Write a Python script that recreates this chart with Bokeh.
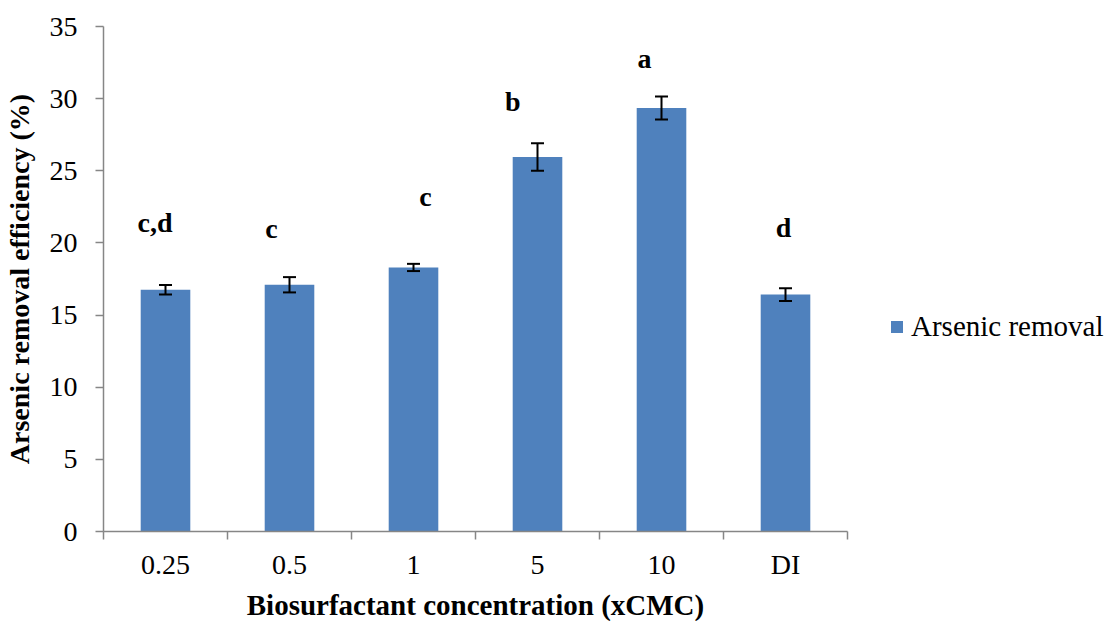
from bokeh.plotting import figure
from bokeh.models import Range1d, FixedTicker, ColumnDataSource, Whisker, TeeHead, Legend
from bokeh.embed import file_html
from bokeh.resources import INLINE
from bokeh.core.properties import value

categories = ["0.25", "0.5", "1", "5", "10", "DI"]
removal = [16.75, 17.1, 18.3, 25.95, 29.35, 16.42]
errors = [0.33, 0.53, 0.25, 0.95, 0.8, 0.44]
letters = ["c,d", "c", "c", "b", "a", "d"]
letter_y = [21.4, 21.0, 23.2, 29.8, 32.75, 21.05]
letter_dx = [-0.085, -0.145, 0.097, -0.2, -0.137, -0.016]
y_ticks = [0, 5, 10, 15, 20, 25, 30, 35]

xs = [i + 0.5 for i in range(len(categories))]
src = ColumnDataSource(dict(
    x=xs, top=removal,
    upper=[v + e for v, e in zip(removal, errors)],
    lower=[v - e for v, e in zip(removal, errors)],
))
lab_src = ColumnDataSource(dict(
    x=[x + d for x, d in zip(xs, letter_dx)], y=letter_y, t=letters))

FONT = "Liberation Serif"
GRAY = "#868686"

p = figure(frame_width=744, frame_height=505, output_backend="svg", toolbar_location=None,
           x_range=Range1d(0, len(categories)), y_range=Range1d(0, 35),
           min_border_left=102, min_border_right=262, min_border_top=26,
           min_border_bottom=80)
p.outline_line_color = None
p.xgrid.visible = False
p.ygrid.visible = False

bars = p.vbar(x="x", top="top", width=0.4, source=src, fill_color="#4F81BD",
              line_color=None)

w = Whisker(base="x", upper="upper", lower="lower", source=src,
            line_color="black", line_width=2, level="overlay",
            upper_head=TeeHead(size=13, line_color="black", line_width=2),
            lower_head=TeeHead(size=13, line_color="black", line_width=2))
p.add_layout(w)

p.text(x="x", y="y", text="t", source=lab_src, text_font=value(FONT),
       text_font_style="bold", text_font_size="28px", text_align="center",
       text_baseline="alphabetic", text_color="black")

# x axis
xa = p.xaxis[0]
xa.ticker = FixedTicker(ticks=xs, minor_ticks=list(range(len(categories) + 1)))
xa.major_label_overrides = {x: c for x, c in zip(xs, categories)}
xa.major_tick_out = 0
xa.major_tick_in = 0
xa.minor_tick_out = 8
xa.minor_tick_in = 0
xa.minor_tick_line_color = GRAY
xa.minor_tick_line_width = 1.5
xa.axis_line_color = GRAY
xa.axis_line_width = 1.5
xa.major_label_text_font = FONT
xa.major_label_text_font_size = "28px"
xa.major_label_text_color = "black"
xa.major_label_standoff = 9
xa.axis_label = "Biosurfactant concentration (xCMC)"
xa.axis_label_text_font = FONT
xa.axis_label_text_font_style = "bold"
xa.axis_label_text_font_size = "29px"
xa.axis_label_text_color = "black"
xa.axis_label_standoff = 6

# y axis
ya = p.yaxis[0]
ya.ticker = FixedTicker(ticks=y_ticks, minor_ticks=[])
ya.major_tick_out = 8
ya.major_tick_in = 0
ya.major_tick_line_color = GRAY
ya.major_tick_line_width = 1.5
ya.axis_line_color = GRAY
ya.axis_line_width = 1.5
ya.major_label_text_font = FONT
ya.major_label_text_font_size = "28px"
ya.major_label_text_color = "black"
ya.major_label_standoff = 18
ya.axis_label = "Arsenic removal efficiency (%)"
ya.axis_label_text_font = FONT
ya.axis_label_text_font_style = "bold"
ya.axis_label_text_font_size = "28px"
ya.axis_label_text_color = "black"
ya.axis_label_standoff = 12

lg = Legend(items=[("Arsenic removal", [bars])], location=(42, 188),
            border_line_color=None, background_fill_alpha=0, padding=0,
            margin=0, glyph_width=15, glyph_height=15, label_standoff=7,
            label_text_font=FONT, label_text_font_size="29px",
            label_text_color="black")
p.add_layout(lg, "right")

open("out.html", "w").write(file_html(p, INLINE))
